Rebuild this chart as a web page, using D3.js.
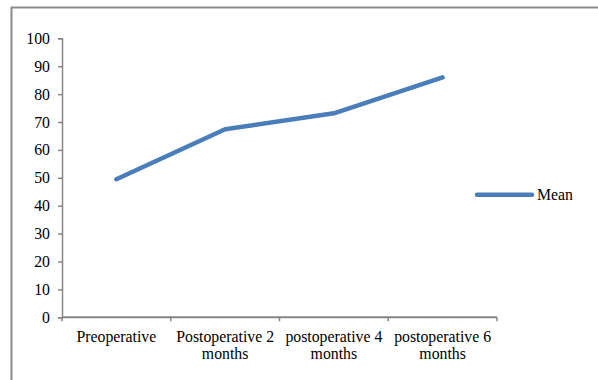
<!DOCTYPE html>
<html><head><meta charset="utf-8">
<script src="https://cdn.jsdelivr.net/npm/d3@7"></script>
<style>body{margin:0;background:#fff}svg{display:block}</style>
</head><body>
<script>
const categories = [["Preoperative"], ["Postoperative 2", "months"], ["postoperative 4", "months"], ["postoperative 6", "months"]];
const meanValues = [49.5, 67.4, 73.1, 86.0];
const yTicks = [0, 10, 20, 30, 40, 50, 60, 70, 80, 90, 100];
const seriesName = "Mean";

const FONT = "Liberation Serif";
const FS = "15.8px";
const W = 598, H = 380;
const svg = d3.select("body").append("svg").attr("width", W).attr("height", H);

// outer frame (top and left only visible)
svg.append("path").attr("d", "M11.5,380 V7.5 H598").attr("fill", "none").attr("stroke", "#8c8c8c").attr("stroke-width", 2);

const x0 = 62, x1 = 497, yTop = 38.3, yBot = 317.3;
const x = d3.scaleBand().domain(d3.range(categories.length)).range([x0, x1]).padding(0);
const y = d3.scaleLinear().domain([0, 100]).range([yBot, yTop]);

const axisColor = "#868686";
// y axis
const gy = svg.append("g").attr("transform", `translate(${x0},0)`)
  .call(d3.axisLeft(y).tickValues(yTicks).tickSize(4).tickPadding(8));
gy.attr("font-family", FONT).attr("font-size", FS);
gy.select(".domain").attr("stroke", axisColor).attr("stroke-width", 1.5);
gy.selectAll(".tick line").attr("stroke", axisColor).attr("stroke-width", 1.5);
gy.selectAll(".tick text").attr("fill", "#000");

// x axis
const gx = svg.append("g").attr("transform", `translate(0,${yBot})`)
  .attr("font-family", FONT).attr("font-size", FS);
gx.append("line").attr("x1", x0).attr("x2", x1).attr("stroke", axisColor).attr("stroke-width", 2);
const bounds = d3.range(categories.length + 1).map(i => i < categories.length ? x(i) : x(categories.length - 1) + x.bandwidth());
gx.selectAll("line.tk").data(bounds).enter().append("line").attr("class", "tk")
  .attr("x1", d => d).attr("x2", d => d).attr("y1", 0).attr("y2", 4)
  .attr("stroke", axisColor).attr("stroke-width", 1.5);
const lbl = gx.selectAll("text.cat").data(categories).enter().append("text").attr("class", "cat")
  .attr("text-anchor", "middle").attr("fill", "#000")
  .attr("x", (d, i) => x(i) + x.bandwidth() / 2);
lbl.selectAll("tspan").data(d => d).enter().append("tspan")
  .attr("x", function() { return d3.select(this.parentNode).attr("x"); })
  .attr("y", (d, i) => 24.5 + i * 17.5).text(d => d);

// line
const line = d3.line().x((d, i) => x(i) + x.bandwidth() / 2).y(d => y(d));
svg.append("path").datum(meanValues).attr("d", line).attr("fill", "none")
  .attr("stroke", "#4a7ebb").attr("stroke-width", 4.5).attr("stroke-linecap", "round").attr("stroke-linejoin", "round");

// legend
const lg = svg.append("g").attr("transform", "translate(477,194.7)");
lg.append("line").attr("x1", 0).attr("x2", 55).attr("stroke", "#4a7ebb").attr("stroke-width", 4.5).attr("stroke-linecap", "round");
lg.append("text").attr("x", 60).attr("y", 5).attr("font-family", FONT).attr("font-size", FS).attr("fill", "#000").text(seriesName);
</script>
</body></html>
